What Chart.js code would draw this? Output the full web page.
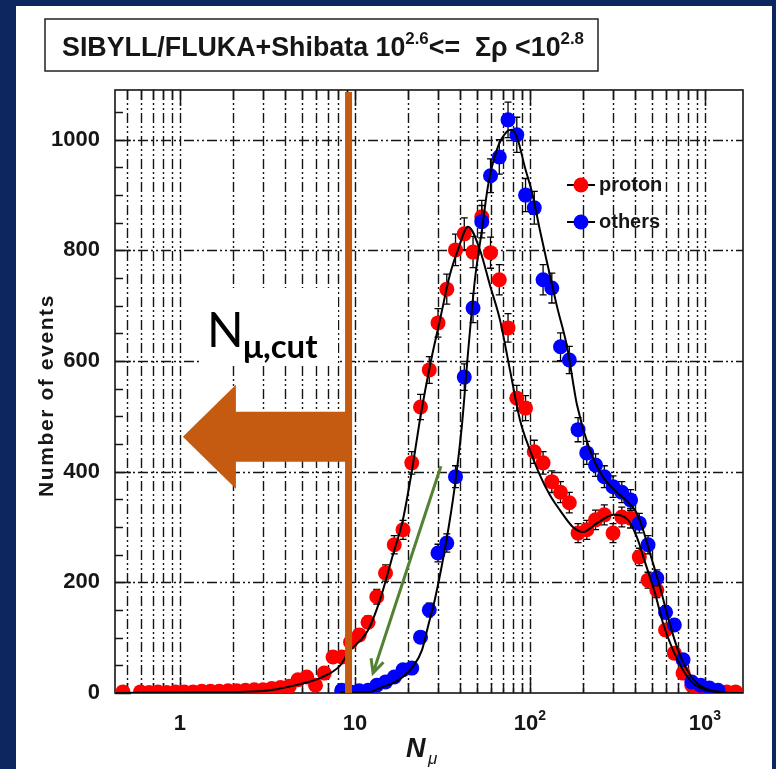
<!DOCTYPE html>
<html>
<head>
<meta charset="utf-8">
<script src="https://cdn.jsdelivr.net/npm/chart.js@4"></script>
<style>
  html, body { margin: 0; padding: 0; background: #0e2660; }
  #wrap { width: 776px; height: 769px; }
</style>
</head>
<body>
<div id="wrap"><canvas id="nmuChart" width="776" height="769"></canvas></div>
<script>
// N_mu bin centres, 20 log bins per decade
const binCenters = [0.473, 0.531, 0.596, 0.668, 0.750, 0.841, 0.944, 1.059, 1.189, 1.334,
  1.496, 1.679, 1.884, 2.113, 2.371, 2.661, 2.985, 3.350, 3.758, 4.217,
  4.732, 5.309, 5.957, 6.683, 7.499, 8.414, 9.441, 10.59, 11.89, 13.34,
  14.96, 16.79, 18.84, 21.13, 23.71, 26.61, 29.85, 33.50, 37.58, 42.17,
  47.32, 53.09, 59.57, 66.83, 74.99, 84.14, 94.41, 105.9, 118.9, 133.4,
  149.6, 167.9, 188.4, 211.3, 237.1, 266.1, 298.5, 335.0, 375.8, 421.7,
  473.2, 530.9, 595.7, 668.3, 749.9, 841.4, 944.1, 1059, 1189, 1334, 1496];

const protonCounts = [2, null, 2, 1, 2, 1, 2, 2, 2, 3,
  3, 3, 4, 4, 5, 6, 6, 8, 10, 12,
  24, 29, 14, 36, 65, 65, 92, 105, 128, 174,
  217, 268, 295, 416, 517, 584, 669, 730, 801, 830,
  797, 861, 796, 747, 660, 533, 515, 436, 416, 382,
  363, 344, 289, 295, 313, 322, 289, 318, 316, 246,
  204, 186, 114, 72, 36, 14, 7, 4, 2, 2, 2];

const othersCounts = [null, null, null, null, null, null, null, null, null, null,
  null, null, null, null, null, null, null, null, null, null,
  null, null, null, null, null, 5, 2, 4, 5, 14,
  20, 29, 42, 45, 101, 150, 253, 271, 391, 571,
  696, 852, 935, 969, 1036, 1009, 900, 877, 747, 732,
  626, 602, 476, 434, 412, 391, 373, 363, 349, 307,
  268, 208, 146, 123, 60, 20, 14, 9, 5, null, null];

// fitted curves
const protonFitN = [0.43, 1, 2.2, 3.27, 4.85, 6.31, 8.2, 9.12, 11.9, 13.9, 16.5, 18.8, 21.2, 23.8,
  26.9, 30.6, 34.9, 38.8, 44.3, 51.8, 59.0, 67.5, 76.9, 87.7, 100, 114, 130, 148, 176, 201,
  242, 302, 363, 408, 454, 518, 575, 656, 748, 853, 1026, 1268, 1648];
const protonFitY = [0, 1, 2, 5, 16, 27, 49, 72, 114, 168, 250, 313, 403, 503,
  593, 674, 756, 801, 843, 801, 738, 674, 584, 494, 439, 394, 358, 331, 300, 291,
  307, 322, 313, 282, 237, 181, 127, 78, 42, 18, 5, 1, 0];

const othersFitN = [8.2, 12.2, 13.9, 16.5, 18.8, 21.4, 24.2, 26.1, 28.6, 33.6, 37.2, 40.8, 44.3,
  48.5, 53.2, 57.5, 64.7, 74.0, 78.9, 85.3, 93.5, 103, 114, 127, 143, 163, 186, 220, 261,
  314, 363, 408, 443, 485, 553, 615, 692, 789, 899, 1069, 1268];
const othersFitY = [1, 2, 9, 18, 29, 47, 78, 119, 168, 282, 373, 481, 615,
  747, 837, 915, 982, 1015, 1018, 1000, 951, 904, 837, 770, 698, 626, 520, 439, 391,
  363, 345, 325, 295, 253, 192, 137, 83, 42, 18, 5, 2];

const xGridValues = [0.5, 0.6, 0.7, 0.8, 0.9, 1, 2, 3, 4, 5, 6, 7, 8, 9,
  10, 20, 30, 40, 50, 60, 70, 80, 90, 100, 200, 300, 400, 500, 600, 700, 800, 900, 1000];
const xTickValues = [1, 10, 100, 1000];
const xTickLabels = [['1', ''], ['10', ''], ['10', '2'], ['10', '3']];
const yTickValues = [0, 200, 400, 600, 800, 1000];

const nMuCut = 9.2;

const toPoints = (xs, ys) => xs.map((v, i) => ({x: v, y: ys[i]})).filter(p => p.y !== null);

const FONT = '"Liberation Sans", Arial, sans-serif';
const ORANGE = '#c55a11';
const TEXT = '#161616';

// grid lines (dash-dot-dot) + inward ticks + frame
const frameGrid = {
  id: 'frameGrid',
  beforeDatasetsDraw(chart) {
    const {ctx, chartArea: a, scales: {x, y}} = chart;
    ctx.save();
    ctx.strokeStyle = '#151515';
    ctx.lineWidth = 1.4;
    ctx.setLineDash([10, 3, 2, 3, 2, 3]);
    ctx.beginPath();
    xGridValues.forEach(v => {
      const px = Math.round(x.getPixelForValue(v)) + 0.5;
      ctx.moveTo(px, a.top); ctx.lineTo(px, a.bottom);
    });
    yTickValues.slice(1).forEach(v => {
      const py = Math.round(y.getPixelForValue(v)) + 0.5;
      ctx.moveTo(a.left, py); ctx.lineTo(a.right, py);
    });
    ctx.stroke();
    ctx.setLineDash([]);
    ctx.lineWidth = 1.5;
    ctx.beginPath();
    xGridValues.forEach(v => {
      const px = Math.round(x.getPixelForValue(v)) + 0.5;
      const len = xTickValues.includes(v) ? 16 : 10;
      ctx.moveTo(px, a.bottom); ctx.lineTo(px, a.bottom - len);
      ctx.moveTo(px, a.top); ctx.lineTo(px, a.top + len);
    });
    for (let v = 0; v <= 1090; v += 50) {
      const py = Math.round(y.getPixelForValue(v)) + 0.5;
      const len = v % 200 === 0 ? 16 : 8;
      ctx.moveTo(a.left, py); ctx.lineTo(a.left + len, py);
    }
    ctx.stroke();
    ctx.lineWidth = 1.6;
    ctx.strokeRect(a.left, a.top, a.right - a.left, a.bottom - a.top);
    ctx.restore();
  }
};

// sqrt(N) error bars under the markers
const errorBars = {
  id: 'errorBars',
  beforeDatasetDraw(chart, args) {
    const ds = chart.data.datasets[args.index];
    if (!ds.errorBars) return;
    const {ctx, scales: {x, y}} = chart;
    ctx.save();
    ctx.strokeStyle = '#000';
    ctx.lineWidth = 1.3;
    ctx.beginPath();
    ds.data.forEach(p => {
      const e = Math.sqrt(p.y);
      const px = x.getPixelForValue(p.x);
      const top = y.getPixelForValue(p.y + e);
      const bot = y.getPixelForValue(Math.max(0, p.y - e));
      ctx.moveTo(px, top); ctx.lineTo(px, bot);
      if (e > 4) {
        ctx.moveTo(px - 3.5, top); ctx.lineTo(px + 3.5, top);
        ctx.moveTo(px - 3.5, bot); ctx.lineTo(px + 3.5, bot);
      }
    });
    ctx.stroke();
    ctx.restore();
  }
};

// draws text runs with raised superscripts, returns total width
function drawSupText(ctx, parts, x, y, size, weight, measureOnly) {
  let cx = x;
  parts.forEach(([t, sup]) => {
    if (!t) return;
    ctx.font = weight + ' ' + (sup ? Math.round(size * 0.62) : size) + 'px ' + FONT;
    if (!measureOnly) ctx.fillText(t, cx, sup ? y - size * 0.45 : y);
    cx += ctx.measureText(t).width;
  });
  return cx - x;
}

const overlays = {
  id: 'overlays',
  afterDraw(chart) {
    const {ctx, chartArea: a, scales: {x, y}} = chart;
    ctx.save();
    ctx.textBaseline = 'alphabetic';
    ctx.textAlign = 'left';

    // x tick labels
    ctx.fillStyle = TEXT;
    xTickValues.forEach((v, i) => {
      const parts = [[xTickLabels[i][0], false], [xTickLabels[i][1], true]];
      const w = drawSupText(ctx, parts, 0, 0, 22, 'bold', true);
      drawSupText(ctx, parts, x.getPixelForValue(v) - w / 2, 730, 22, 'bold');
    });

    // y axis title
    ctx.save();
    ctx.translate(53, (a.top + a.bottom) / 2 + 4);
    ctx.rotate(-Math.PI / 2);
    ctx.font = 'bold 21px ' + FONT;
    if ('letterSpacing' in ctx) ctx.letterSpacing = '1.6px';
    ctx.textAlign = 'center';
    ctx.fillText('Number of events', 0, 0);
    ctx.restore();

    // title box
    ctx.fillStyle = '#fff';
    ctx.strokeStyle = '#222';
    ctx.lineWidth = 1.5;
    ctx.fillRect(45, 19, 553, 52);
    ctx.strokeRect(45, 19, 553, 52);
    ctx.fillStyle = TEXT;
    const titleParts = [['SIBYLL/FLUKA+Shibata 10', false], ['2.6', true], ['<=  \u03a3\u03c1 <10', false], ['2.8', true]];
    const w = drawSupText(ctx, titleParts, 0, 0, 27, 'bold', true);
    ctx.save();
    ctx.translate(62, 56);
    ctx.scale(522 / w, 1);
    drawSupText(ctx, titleParts, 0, 0, 27, 'bold');
    ctx.restore();

    // legend
    const legend = [['proton', '#ff0000', 185], ['others', '#0000ff', 222]];
    legend.forEach(([label, color, ly]) => {
      ctx.strokeStyle = '#000';
      ctx.lineWidth = 2;
      ctx.beginPath(); ctx.moveTo(567, ly); ctx.lineTo(595, ly); ctx.stroke();
      ctx.fillStyle = color;
      ctx.beginPath(); ctx.arc(581, ly, 7.5, 0, Math.PI * 2); ctx.fill();
      ctx.fillStyle = TEXT;
      ctx.font = 'bold 20px ' + FONT;
      ctx.textBaseline = 'middle';
      ctx.fillText(label, 599, ly);
    });

    // x axis title N_mu
    ctx.fillStyle = TEXT;
    ctx.textBaseline = 'alphabetic';
    ctx.font = 'italic bold 27px ' + FONT;
    ctx.fillText('N', 406, 757);
    ctx.font = 'italic 17px ' + FONT;
    ctx.fillText('\u03bc', 428, 764);

    // N_mu cut marker
    const cutX = x.getPixelForValue(nMuCut);
    const yMid = y.getPixelForValue(463);
    const tipX = x.getPixelForValue(1.04);
    const headX = x.getPixelForValue(2.09);
    ctx.fillStyle = ORANGE;
    ctx.fillRect(cutX - 3.5, a.top + 2, 7, a.bottom - a.top - 2);
    ctx.beginPath();
    ctx.moveTo(cutX + 3.5, yMid - 25);
    ctx.lineTo(headX, yMid - 25);
    ctx.lineTo(headX, yMid - 52);
    ctx.lineTo(tipX, yMid);
    ctx.lineTo(headX, yMid + 52);
    ctx.lineTo(headX, yMid + 25);
    ctx.lineTo(cutX + 3.5, yMid + 25);
    ctx.closePath();
    ctx.fill();

    // label box
    ctx.fillStyle = '#fff';
    ctx.fillRect(200, 288, 138, 77);
    ctx.fillStyle = '#000';
    ctx.font = '48px Lato, "Open Sans", sans-serif';
    ctx.fillText('N', 207, 347);
    ctx.font = 'bold 33px Lato, "Open Sans", sans-serif';
    ctx.fillText('\u03bc,cut', 243, 358);

    // green arrow
    const gx0 = x.getPixelForValue(31), gy0 = y.getPixelForValue(410);
    const gx1 = x.getPixelForValue(12.7), gy1 = y.getPixelForValue(36);
    const ang = Math.atan2(gy1 - gy0, gx1 - gx0);
    ctx.strokeStyle = '#548235';
    ctx.lineWidth = 3;
    ctx.beginPath();
    ctx.moveTo(gx0, gy0); ctx.lineTo(gx1, gy1);
    ctx.moveTo(gx1 - 15 * Math.cos(ang - 0.45), gy1 - 15 * Math.sin(ang - 0.45));
    ctx.lineTo(gx1, gy1);
    ctx.lineTo(gx1 - 15 * Math.cos(ang + 0.45), gy1 - 15 * Math.sin(ang + 0.45));
    ctx.stroke();

    ctx.restore();
  }
};

// page frame
const pageFrame = {
  id: 'pageFrame',
  beforeDraw(chart) {
    const {ctx, width, height} = chart;
    ctx.save();
    ctx.fillStyle = '#0e2660';
    ctx.fillRect(0, 0, width, height);
    ctx.fillStyle = '#fff';
    ctx.fillRect(16, 6, width - 20, height - 6);
    ctx.restore();
  }
};

new Chart(document.getElementById('nmuChart'), {
  type: 'scatter',
  data: {
    datasets: [
      {
        label: 'proton fit',
        data: toPoints(protonFitN, protonFitY),
        showLine: true,
        borderColor: '#000',
        borderWidth: 2,
        pointRadius: 0,
        cubicInterpolationMode: 'monotone',
        order: 0
      },
      {
        label: 'others fit',
        data: toPoints(othersFitN, othersFitY),
        showLine: true,
        borderColor: '#000',
        borderWidth: 2,
        pointRadius: 0,
        cubicInterpolationMode: 'monotone',
        order: 0
      },
      {
        label: 'others',
        data: toPoints(binCenters, othersCounts),
        backgroundColor: '#0000ff',
        borderWidth: 0,
        pointRadius: 7.5,
        errorBars: true,
        order: 1
      },
      {
        label: 'proton',
        data: toPoints(binCenters, protonCounts),
        backgroundColor: '#ff0000',
        borderWidth: 0,
        pointRadius: 7.5,
        errorBars: true,
        order: 2
      }
    ]
  },
  options: {
    responsive: false,
    devicePixelRatio: 1,
    animation: false,
    layout: { padding: { top: 90, right: 33, left: 0, bottom: 0 } },
    plugins: { legend: { display: false }, tooltip: { enabled: false } },
    scales: {
      x: {
        type: 'logarithmic',
        min: 0.426,
        max: 1650,
        grid: { display: false },
        border: { display: false },
        afterBuildTicks: s => { s.ticks = xGridValues.map(v => ({value: v})); },
        afterFit: s => { s.height = 76; },
        ticks: { autoSkip: false, maxRotation: 0, callback: () => '' }
      },
      y: {
        min: 0,
        max: 1090,
        grid: { display: false, drawTicks: false },
        border: { display: false },
        afterBuildTicks: s => { s.ticks = yTickValues.map(v => ({value: v})); },
        afterFit: s => { s.width = 115; },
        ticks: {
          padding: 15,
          color: TEXT,
          font: { family: FONT, size: 22, weight: 'bold' },
          callback: v => String(v)
        }
      }
    }
  },
  plugins: [pageFrame, frameGrid, errorBars, overlays]
});
</script>
</body>
</html>
